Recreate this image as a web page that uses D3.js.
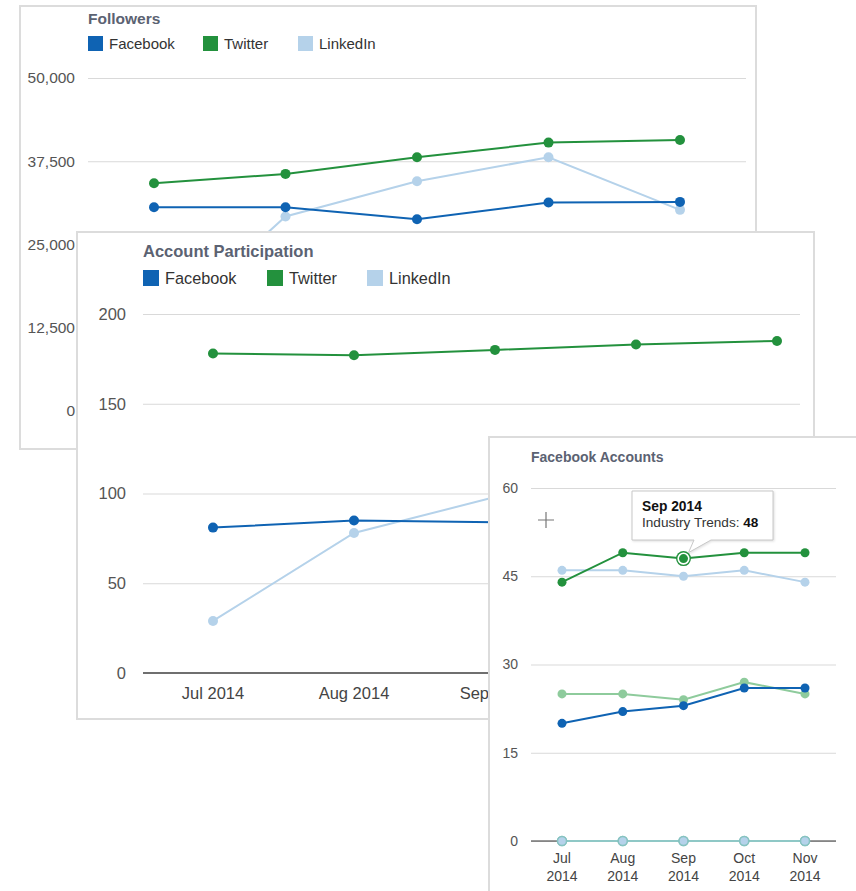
<!DOCTYPE html>
<html lang="en">
<head>
    <meta charset="UTF-8">
    <title>Social Accounts</title>
    <style>
        body{ margin:0; background:#fff; }
        svg{ display:block; font-family:"Liberation Sans", Arial, sans-serif; }
        .axis .domain{ display:none; }
        .axis line{ stroke:#d9d9d9; }
        .axis text{ fill:#555; }
    </style>
</head>
<body>
    <svg width="856" height="891"></svg>
    <script src="https://d3js.org/d3.v7.min.js"></script>
    <script>
        // data
        var months = ["Jul 2014", "Aug 2014", "Sep 2014", "Oct 2014", "Nov 2014"];
        var legendNames = ["Facebook", "Twitter", "LinkedIn"];

        var followersFacebook = [30600, 30600, 28800, 31300, 31400];
        var followersTwitter  = [34200, 35600, 38100, 40300, 40700];
        var followersLinkedIn = [11300, 29200, 34500, 38100, 30200];
        var followersTicks = [0, 12500, 25000, 37500, 50000];

        var partFacebook = [81, 85, 84, 86, 88];
        var partTwitter  = [178, 177, 180, 183, 185];
        var partLinkedIn = [29, 78, 98, 105, 110];
        var partTicks = [0, 50, 100, 150, 200];

        var fbIndustryTrends = [44, 49, 48, 49, 49];
        var fbBenchmark      = [46, 46, 45, 46, 44];
        var fbPeerAverage    = [25, 25, 24, 27, 25];
        var fbAccounts       = [20, 22, 23, 26, 26];
        var fbPaidA          = [0, 0, 0, 0, 0];
        var fbPaidB          = [0, 0, 0, 0, 0];
        var fbTicks = [0, 15, 30, 45, 60];

        var blue = "#0f63b3", green = "#23913d", lightBlue = "#b5d2ea", lightGreen = "#8ecb9c";

        var svg = d3.select("svg");

        function card(opt){
            var g = svg.append("g");
            g.append("rect")
                .attr("x", opt.box[0]).attr("y", opt.box[1])
                .attr("width", opt.box[2]).attr("height", opt.box[3])
                .attr("fill", "#fff").attr("stroke", "#dcdcdc").attr("stroke-width", 2);

            var x = d3.scalePoint().domain(months).range(opt.xRange);
            var y = d3.scaleLinear().domain([0, d3.max(opt.ticks)]).range(opt.yRange);

            g.append("g")
                .attr("class", "axis")
                .attr("transform", "translate(" + opt.gridX[0] + ",0)")
                .call(d3.axisLeft(y).tickValues(opt.ticks)
                    .tickSize(-(opt.gridX[1] - opt.gridX[0]))
                    .tickPadding(opt.pad)
                    .tickFormat(d3.format(",")))
                .attr("font-size", opt.tickFont)   // after call, axis sets its own size
                .attr("font-family", null);

            // baseline at zero
            g.append("line")
                .attr("x1", opt.gridX[0]).attr("x2", opt.gridX[1])
                .attr("y1", y(0)).attr("y2", y(0))
                .attr("stroke", opt.zeroColor).attr("stroke-width", opt.zeroWidth);

            // month labels
            var xl = g.append("g").attr("font-size", opt.monthFont).attr("fill", "#444").attr("text-anchor", "middle");
            months.forEach(function(m){
                var t = xl.append("text").attr("x", x(m)).attr("y", opt.monthY);
                if (opt.splitMonths) {
                    var p = m.split(" ");
                    t.append("tspan").attr("x", x(m)).text(p[0]);
                    t.append("tspan").attr("x", x(m)).attr("dy", 18).text(p[1]);
                } else {
                    t.text(m);
                }
            });

            var line = d3.line().x(function(d, i){ return x(months[i]); }).y(function(d){ return y(d); });
            opt.series.forEach(function(s){
                g.append("path").datum(s.values)
                    .attr("d", line).attr("fill", "none")
                    .attr("stroke", s.line || s.color).attr("stroke-width", 2)
                    .attr("stroke-opacity", s.opacity || 1);
                g.selectAll(null).data(s.values).enter().append("circle")
                    .attr("cx", function(d, i){ return x(months[i]); })
                    .attr("cy", y)
                    .attr("r", opt.r)
                    .attr("fill", s.color)
                    .attr("stroke", s.dotStroke || "none")
                    .attr("stroke-width", 1.5);
            });

            g.append("text")
                .attr("x", opt.title[1]).attr("y", opt.title[2])
                .attr("font-size", opt.title[3]).attr("font-weight", "bold")
                .attr("fill", "#5b6272").text(opt.title[0]);

            if (opt.legend) {
                var lg = g.append("g").attr("font-size", opt.legend.font).attr("fill", "#333");
                legendNames.forEach(function(n, i){
                    var lx = opt.legend.x[i];
                    lg.append("rect").attr("x", lx).attr("y", opt.legend.y)
                        .attr("width", opt.legend.size).attr("height", opt.legend.size)
                        .attr("fill", [blue, green, lightBlue][i]);
                    lg.append("text").attr("x", lx + opt.legend.size + 6)
                        .attr("y", opt.legend.y + opt.legend.size - 2).text(n);
                });
            }
            return {g: g, x: x, y: y};
        }

        card({
            box: [20, 6, 736, 443],
            xRange: [154, 680], yRange: [411, 78], gridX: [88, 746],
            ticks: followersTicks, tickFont: 15.5, pad: 13,
            zeroColor: "#777", zeroWidth: 1.5,
            monthFont: 15.5, monthY: 436,
            r: 5,
            title: ["Followers", 88, 24, 15.5],
            legend: {x: [88, 203, 298], y: 36, size: 15, font: 15},
            series: [
                {values: followersLinkedIn, color: lightBlue},
                {values: followersFacebook, color: blue},
                {values: followersTwitter, color: green}
            ]
        });

        card({
            box: [77, 232, 737, 487],
            xRange: [213, 777], yRange: [673, 314], gridX: [143, 800],
            ticks: partTicks, tickFont: 16.5, pad: 17,
            zeroColor: "#6f6f6f", zeroWidth: 2,
            monthFont: 16.5, monthY: 699,
            r: 5,
            title: ["Account Participation", 143, 257, 16.5],
            legend: {x: [143, 267, 367], y: 270, size: 16, font: 16.3},
            series: [
                {values: partLinkedIn, color: lightBlue},
                {values: partFacebook, color: blue},
                {values: partTwitter, color: green}
            ]
        });

        var fb = card({
            box: [489, 437, 400, 480],
            xRange: [562, 805], yRange: [841, 488], gridX: [531, 836],
            ticks: fbTicks, tickFont: 14, pad: 13,
            zeroColor: "#333", zeroWidth: 1,
            monthFont: 14, monthY: 863,
            splitMonths: true,
            r: 4.5,
            title: ["Facebook Accounts", 531, 462, 14],
            series: [
                {values: fbPaidA, color: lightBlue, line: lightBlue, dotStroke: "#86c3c0"},
                {values: fbPaidB, color: lightBlue, line: "#6fc0a8", opacity: 0.55, dotStroke: "#86c3c0"},
                {values: fbBenchmark, color: lightBlue},
                {values: fbPeerAverage, color: lightGreen},
                {values: fbAccounts, color: blue},
                {values: fbIndustryTrends, color: green}
            ]
        });

        // hovered point and tooltip
        var hx = fb.x(months[2]), hy = fb.y(fbIndustryTrends[2]);
        var hover = fb.g.append("g");
        hover.append("circle").attr("cx", hx).attr("cy", hy).attr("r", 7.5).attr("fill", green);
        hover.append("circle").attr("cx", hx).attr("cy", hy).attr("r", 5.3).attr("fill", "none").attr("stroke", "#fff").attr("stroke-width", 1.6);

        var tip = fb.g.append("g");
        var tx = 632, ty = 491, tw = 141, th = 49;
        tip.append("path")
            .attr("d", "M" + tx + "," + ty + "h" + tw + "v" + th + "h-" + (tx + tw - 711) +
                "L" + (hx + 5) + "," + (hy - 6) + "L694," + (ty + th) + "H" + tx + "Z")
            .attr("fill", "#fff").attr("stroke", "#c8c8c8").attr("stroke-width", 1)
            .style("filter", "drop-shadow(1px 1px 1px rgba(0,0,0,0.12))");
        tip.append("text").attr("x", tx + 10).attr("y", ty + 20)
            .attr("font-size", 13.8).attr("font-weight", "bold").attr("fill", "#111")
            .text(months[2]);
        var t2 = tip.append("text").attr("x", tx + 10).attr("y", ty + 36)
            .attr("font-size", 13.6).attr("fill", "#333");
        t2.append("tspan").text("Industry Trends: ");
        t2.append("tspan").attr("font-weight", "bold").attr("fill", "#111").text(fbIndustryTrends[2]);

        // mouse crosshair
        fb.g.append("path").attr("d", "M538,520h16M546,512v16")
            .attr("stroke", "#777").attr("stroke-width", 1.2);
    </script>
</body>
</html>
